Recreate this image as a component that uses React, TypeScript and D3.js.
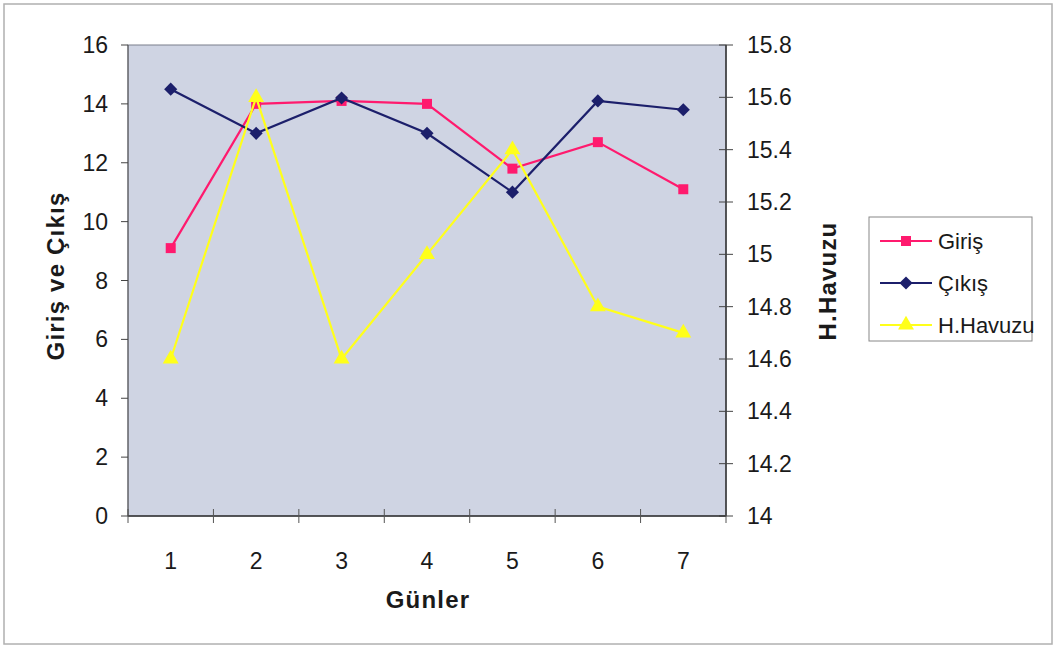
import * as d3 from 'd3';
import React, { useEffect, useRef } from 'react';

// data
const days = ['1', '2', '3', '4', '5', '6', '7'];
const giris = [9.1, 14.0, 14.1, 14.0, 11.8, 12.7, 11.1];
const cikis = [14.5, 13.0, 14.2, 13.0, 11.0, 14.1, 13.8];
const havuz = [14.6, 15.6, 14.6, 15.0, 15.4, 14.8, 14.7];
const leftTicks = [0, 2, 4, 6, 8, 10, 12, 14, 16];
const rightTicks = [14, 14.2, 14.4, 14.6, 14.8, 15, 15.2, 15.4, 15.6, 15.8];

const series = [
    { label: 'Giriş', values: giris, color: '#ff1a6e', marker: 'square', axis: 'left' },
    { label: 'Çıkış', values: cikis, color: '#1c1f6b', marker: 'diamond', axis: 'left' },
    { label: 'H.Havuzu', values: havuz, color: '#ffff1a', marker: 'triangle', axis: 'right' },
];

const font = 'Liberation Sans, Arial, sans-serif';

export default function App() {
    const ref = useRef<SVGSVGElement>(null);

    useEffect(() => {
        const svg = d3.select(ref.current);
        svg.selectAll('*').remove();

        const plot = { left: 128, right: 726, top: 45, bottom: 516 };

        // outer frame
        svg.append('rect')
            .attr('x', 4).attr('y', 4)
            .attr('width', 1048).attr('height', 640)
            .attr('fill', 'white')
            .attr('stroke', '#b0b0b0')
            .attr('stroke-width', 1.5);

        const x = d3.scaleBand().domain(days).range([plot.left, plot.right]);
        const yL = d3.scaleLinear().domain([0, 16]).range([plot.bottom, plot.top]);
        const yR = d3.scaleLinear().domain([14, 15.8]).range([plot.bottom, plot.top]);

        // plot background
        svg.append('rect')
            .attr('x', plot.left).attr('y', plot.top)
            .attr('width', plot.right - plot.left)
            .attr('height', plot.bottom - plot.top)
            .attr('fill', '#cfd4e3')
            .attr('stroke', '#7a7f8c')
            .attr('stroke-width', 1);

        // left axis
        const left = svg.append('g');
        left.append('line')
            .attr('x1', plot.left).attr('x2', plot.left)
            .attr('y1', plot.top).attr('y2', plot.bottom)
            .attr('stroke', '#555');
        leftTicks.forEach(t => {
            left.append('line')
                .attr('x1', plot.left - 7).attr('x2', plot.left)
                .attr('y1', yL(t)).attr('y2', yL(t))
                .attr('stroke', '#444');
            left.append('text')
                .attr('x', 108).attr('y', yL(t) + 8)
                .attr('text-anchor', 'end')
                .attr('font-family', font)
                .attr('font-size', 23)
                .attr('fill', '#1a1a1a')
                .text(t);
        });

        // right axis
        const right = svg.append('g');
        right.append('line')
            .attr('x1', plot.right).attr('x2', plot.right)
            .attr('y1', plot.top).attr('y2', plot.bottom)
            .attr('stroke', '#333').attr('stroke-width', 1.5);
        rightTicks.forEach(t => {
            right.append('line')
                .attr('x1', plot.right - 7).attr('x2', plot.right + 7)
                .attr('y1', yR(t)).attr('y2', yR(t))
                .attr('stroke', '#444');
            right.append('text')
                .attr('x', 747).attr('y', yR(t) + 8)
                .attr('font-family', font)
                .attr('font-size', 23)
                .attr('fill', '#1a1a1a')
                .text(d3.format('~g')(+t.toFixed(1)));
        });

        // x axis
        const bottom = svg.append('g');
        bottom.append('line')
            .attr('x1', plot.left).attr('x2', plot.right)
            .attr('y1', plot.bottom).attr('y2', plot.bottom)
            .attr('stroke', '#333').attr('stroke-width', 1.5);
        d3.range(days.length + 1).forEach(i => {
            const xx = plot.left + i * x.bandwidth();
            bottom.append('line')
                .attr('x1', xx).attr('x2', xx)
                .attr('y1', plot.bottom - 7).attr('y2', plot.bottom + 7)
                .attr('stroke', '#555');
        });
        days.forEach(d => {
            bottom.append('text')
                .attr('x', x(d)! + x.bandwidth() / 2)
                .attr('y', 569)
                .attr('text-anchor', 'middle')
                .attr('font-family', font)
                .attr('font-size', 23)
                .attr('fill', '#1a1a1a')
                .text(d);
        });

        // axis titles
        const title = (sel: any) => sel
            .attr('text-anchor', 'middle')
            .attr('font-family', font)
            .attr('font-weight', 'bold')
            .attr('font-size', 24)
            .attr('letter-spacing', 1.2)
            .attr('fill', '#1a1a1a');
        svg.append('text')
            .attr('transform', 'translate(64,276)rotate(-90)')
            .call(title)
            .text('Giriş ve Çıkış');
        svg.append('text')
            .attr('transform', 'translate(836,281)rotate(-90)')
            .call(title)
            .text('H.Havuzu');
        svg.append('text')
            .attr('x', 428).attr('y', 608)
            .call(title)
            .text('Günler');

        const symbolFor = (m: string) => {
            if (m === 'square') return d3.symbol().type(d3.symbolSquare).size(100)();
            if (m === 'diamond') return d3.symbol().type(d3.symbolDiamond2).size(110)();
            return d3.symbol().type(d3.symbolTriangle).size(110)();
        };

        // lines + markers
        series.forEach(s => {
            const y = s.axis === 'left' ? yL : yR;
            const line = d3.line<number>()
                .x((_, i) => x(days[i])! + x.bandwidth() / 2)
                .y(v => y(v));
            svg.append('path')
                .attr('d', line(s.values))
                .attr('fill', 'none')
                .attr('stroke', s.color)
                .attr('stroke-width', 2.2);
            s.values.forEach((v, i) => {
                svg.append('path')
                    .attr('d', symbolFor(s.marker))
                    .attr('transform', `translate(${x(days[i])! + x.bandwidth() / 2},${y(v)})`)
                    .attr('fill', s.color);
            });
        });

        // legend
        const legend = svg.append('g');
        legend.append('rect')
            .attr('x', 869).attr('y', 217)
            .attr('width', 163).attr('height', 124)
            .attr('fill', 'white')
            .attr('stroke', '#888');
        series.forEach((s, i) => {
            const ly = 241 + i * 42;
            legend.append('line')
                .attr('x1', 880).attr('x2', 932)
                .attr('y1', ly).attr('y2', ly)
                .attr('stroke', s.color)
                .attr('stroke-width', 2);
            legend.append('path')
                .attr('d', symbolFor(s.marker))
                .attr('transform', `translate(906,${ly})`)
                .attr('fill', s.color);
            legend.append('text')
                .attr('x', 938).attr('y', ly + 8)
                .attr('font-family', font)
                .attr('font-size', 22)
                .attr('fill', '#1a1a1a')
                .text(s.label);
        });
    }, []);

    return (
        <svg ref={ref} width={1057} height={648}
            style={{ position: 'absolute', left: 0, top: 0, background: 'white' }} />
    );
}
